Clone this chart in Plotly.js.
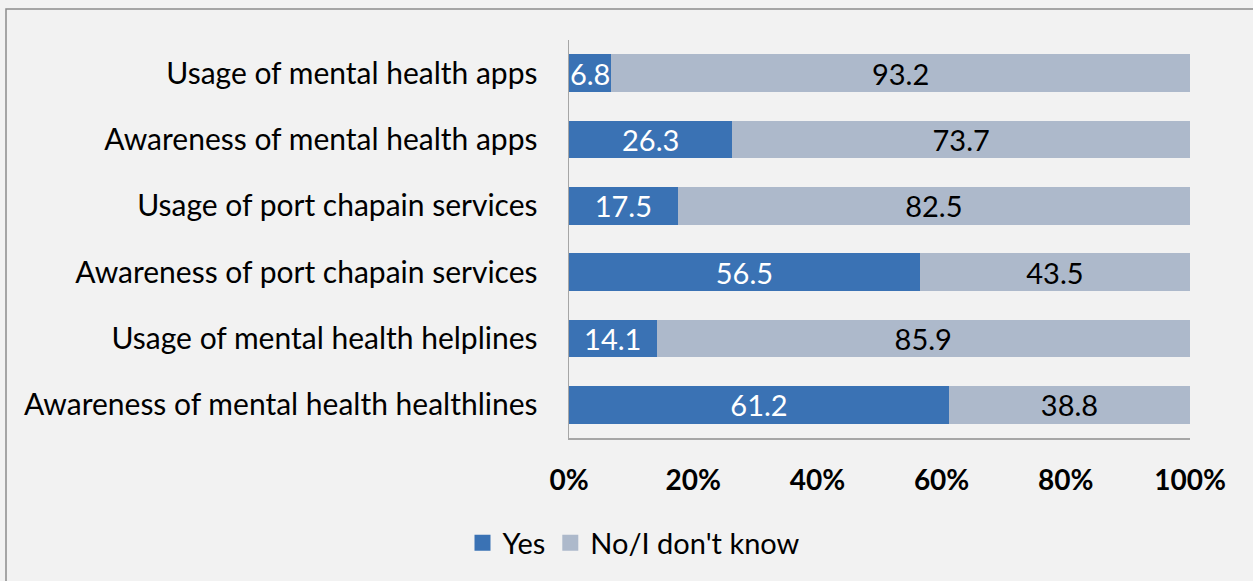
<!DOCTYPE html>
<html><head><meta charset="utf-8">
<script src="https://cdn.plot.ly/plotly-3.0.1.min.js"></script>
<style>html,body{margin:0;padding:0;background:#f2f2f2;}#chart{width:1253px;height:581px;}</style>
</head><body><div id="chart"></div>
<script>
const categories = [
  "Usage of mental health apps",
  "Awareness of mental health apps",
  "Usage of port chapain services",
  "Awareness of port chapain services",
  "Usage of mental health helplines",
  "Awareness of mental health healthlines"
];
const yesValues = [6.8, 26.3, 17.5, 56.5, 14.1, 61.2];
const noValues = [93.2, 73.7, 82.5, 43.5, 85.9, 38.8];
const tickValues = [0, 20, 40, 60, 80, 100];
const tickLabels = ["0%", "20%", "40%", "60%", "80%", "100%"];
const seriesNames = ["Yes", "No/I don't know"];
const seriesColors = ["#3a72b4", "#adb9cb"];

const W = 1253, H = 581, L = 569, R = 1190, T = 40, B = 438;
const pw = R - L, ph = B - T;
const px = v => (v - L) / pw;
const py = v => (B - v) / ph;
const FONT = "Lato, Open Sans, sans-serif";

const traces = [
  {type:'bar', orientation:'h', name:seriesNames[0], y:categories, x:yesValues, showlegend:false,
   marker:{color:seriesColors[0]}, text:yesValues.map(v=>v.toFixed(1)), textposition:'inside',
   insidetextanchor:'middle', constraintext:'none', textfont:{color:'#ffffff', size:29, family:FONT}, hoverinfo:'skip'},
  {type:'bar', orientation:'h', name:seriesNames[1], y:categories, x:noValues, showlegend:false,
   marker:{color:seriesColors[1]}, text:noValues.map(v=>v.toFixed(1)), textposition:'inside',
   insidetextanchor:'middle', constraintext:'none', textfont:{color:'#000000', size:29, family:FONT}, hoverinfo:'skip'},
  {type:'scatter', mode:'markers', name:seriesNames[0], x:[null], y:[null],
   marker:{symbol:'square', size:17, color:seriesColors[0]}, hoverinfo:'skip'},
  {type:'scatter', mode:'markers', name:seriesNames[1], x:[null], y:[null],
   marker:{symbol:'square', size:17, color:seriesColors[1]}, hoverinfo:'skip'}
];

const layout = {
  width:W, height:H, barmode:'stack', bargap:0.43,
  paper_bgcolor:'#f2f2f2', plot_bgcolor:'#f2f2f2',
  margin:{l:L, r:W-R, t:T, b:H-B, pad:0},
  font:{family:FONT, color:'#000'},
  showlegend:true,
  legend:{orientation:'h', x:px(634), xanchor:'center', y:py(543), yanchor:'middle',
    font:{size:29, family:FONT}, bgcolor:'rgba(0,0,0,0)', itemwidth:30, traceorder:'normal'},
  xaxis:{range:[0,100], tickvals:tickValues, ticktext:tickLabels, showgrid:false, zeroline:false,
    showline:true, linecolor:'#a6a6a6', linewidth:1.5, ticks:'', ticklabelstandoff:17,
    tickfont:{size:28, family:FONT, weight:'bold'}},
  yaxis:{type:'category', categoryorder:'array', categoryarray:categories, autorange:'reversed',
    showgrid:false, zeroline:false, showline:true, linecolor:'#a6a6a6',
    linewidth:1.5, ticks:'', ticklabelstandoff:24, tickfont:{size:30, family:FONT}},
  shapes:[{type:'rect', xref:'paper', yref:'paper', x0:px(6), x1:px(1260), y0:py(9), y1:py(590),
    line:{color:'#8c8c8c', width:1.5}, fillcolor:'rgba(0,0,0,0)', layer:'below'}]
};
Plotly.newPlot('chart', traces, layout, {displayModeBar:false, staticPlot:true});
</script></body></html>
